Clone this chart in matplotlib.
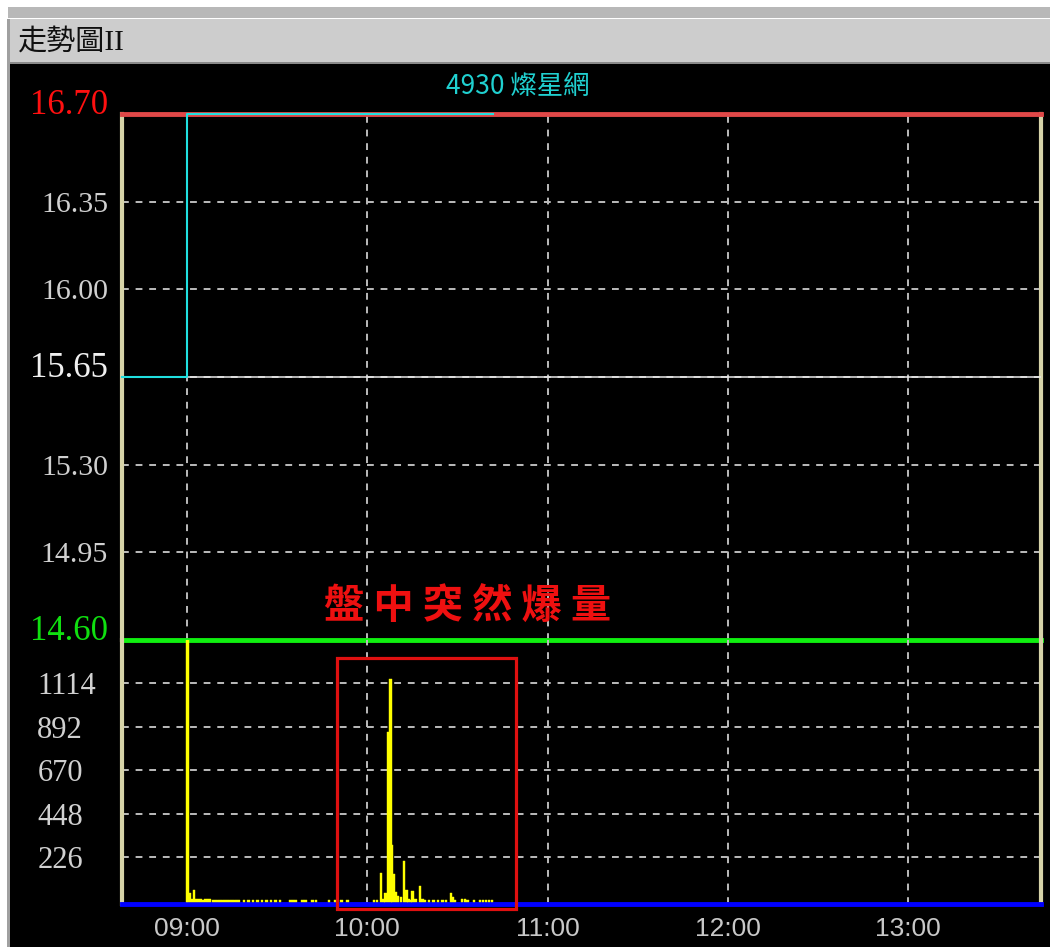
import matplotlib.pyplot as plt
from matplotlib.patches import Rectangle

plt.rcParams['font.family'] = 'Liberation Serif'
CJK = ['Noto Sans CJK TC', 'DejaVu Sans']
CJK_SERIF = ['Liberation Serif', 'Noto Sans CJK TC']

# data (x = minutes after 09:00)
stock_title = '4930 燦星網'
ref_price = 15.65
limit_up = 16.70
limit_down = 14.60
price_ticks = [14.60, 14.95, 15.30, 15.65, 16.00, 16.35, 16.70]
price_labels = ['14.60', '14.95', '15.30', '15.65', '16.00', '16.35', '16.70']
price_times = [-21.6, 0.0, 101.8]
price_vals = [15.65, 16.70, 16.70]

vol_ticks = [226, 448, 670, 892, 1114]
vol_times = [0.2, 1.0, 1.6, 2.3, 3.0, 3.8, 4.6, 5.4, 6.2, 7.0, 7.7,
             8.6, 9.4, 10.2, 11.0, 11.8, 12.6, 13.4, 14.2, 15.0, 15.8, 16.6, 17.4,
             19.0, 20.5, 22.0, 23.5, 25.0, 26.5, 28.0, 29.5, 31.0,
             34.5, 35.3, 36.1, 38.5, 39.5, 41.8, 43.0,
             47.3, 49.5, 51.5, 53.5, 62.2, 63.2,
             64.5, 65.4, 66.1, 67.0, 67.8, 68.3, 69.0, 69.5, 70.2, 71.2,
             72.3, 73.1, 73.8, 74.5, 75.1, 76.1, 77.6, 78.4, 79.2, 80.5,
             82.0, 83.5, 85.0, 86.2, 87.9, 88.5, 89.2, 91.5, 92.5, 93.3,
             95.5, 97.5, 98.5, 99.5, 100.5, 101.5]
vol_vals = [1340, 45, 15, 60, 15, 12, 15, 10, 15, 12, 15,
            10, 8, 10, 8, 10, 8, 10, 8, 10, 8, 10, 8,
            8, 6, 8, 6, 8, 6, 8, 6, 8,
            10, 8, 10, 8, 10, 8, 8,
            8, 6, 8, 6, 10, 8,
            146, 12, 45, 864, 1136, 288, 141, 50, 30, 25,
            207, 60, 15, 10, 55, 12, 80, 15, 10, 8,
            8, 6, 8, 6, 45, 25, 10, 12, 15, 10,
            8, 10, 10, 8, 10, 8]

hour_ticks = [0, 60, 120, 180, 240]
hour_labels = ['09:00', '10:00', '11:00', '12:00', '13:00']

W, H = 1050, 947
fig = plt.figure(figsize=(10.5, 9.47), dpi=100, facecolor='white')


def box(x0, y0, x1, y1, color):
    fig.patches.append(Rectangle((x0 / W, 1 - y1 / H), (x1 - x0) / W, (y1 - y0) / H,
                                 transform=fig.transFigure, facecolor=color,
                                 edgecolor='none', zorder=-1))


# window chrome
box(8, 7, 1050, 18, '#b8b8b8')
box(8, 19, 1050, 62, '#cdcdcd')
box(8, 62, 1050, 64, '#8a8a8a')
box(7, 19, 10, 947, '#a0a0a0')
box(10, 64, 1050, 947, 'black')
fig.text(18 / W, 1 - 42 / H, '走勢圖II', fontsize=21, family=CJK_SERIF, va='center', ha='left', color='#101010')
fig.text(518 / W, 1 - 87 / H, stock_title, fontsize=19, family=CJK, va='center', ha='center', color='#20d0d0')

ax = fig.add_axes([122 / W, 1 - 640 / H, 919 / W, 526 / H])
axv = fig.add_axes([122 / W, 1 - 904 / H, 919 / W, 264 / H], sharex=ax)

beige = '#d6d3a8'
grid_kw = dict(color='#bcbcbc', linestyle=(0, (3.5, 3.5)), linewidth=1.4)
for a in (ax, axv):
    a.set_facecolor('none')
    a.set_axisbelow(True)
    a.grid(True, **grid_kw)
    for s in ('left', 'right'):
        a.spines[s].set_color(beige)
        a.spines[s].set_linewidth(3)

# price panel
ax.set_xlim(-21.6, 284.2)
ax.set_ylim(limit_down, limit_up)
ax.set_yticks(price_ticks, price_labels)
ax.tick_params(axis='y', length=0, pad=10, labelsize=21.5, labelcolor='#d0d0d0')
ax.tick_params(axis='x', length=0, labelbottom=False)
special = {'16.70': '#ff1010', '15.65': '#f0f0f0', '14.60': '#10e010'}
for lbl in ax.get_yticklabels():
    if lbl.get_text() in special:
        lbl.set_color(special[lbl.get_text()])
        lbl.set_fontsize(25)
        lbl.set_va('baseline')
ax.spines['top'].set_color('#e04848')
ax.spines['top'].set_linewidth(3.5)
ax.spines['bottom'].set_color('#10f010')
ax.spines['bottom'].set_linewidth(3.5)
ax.spines['bottom'].set_zorder(4)

ax.axhline(ref_price, color='#e8e8e8', lw=1.1, zorder=3)
ax.plot(price_times, price_vals, drawstyle='steps-post', color='#20e0e0', lw=1.5, zorder=4, clip_on=False)
ax.text(93.3, 14.73, '盤 中 突 然 爆 量', color='#ee1010', fontsize=29, fontweight='bold',
        family=CJK, ha='center', va='center', zorder=6)

# volume panel
axv.set_ylim(-12, 1334)
axv.set_yticks(vol_ticks, [str(v) for v in vol_ticks])
axv.tick_params(axis='y', length=0, pad=61, labelsize=22, labelcolor='#d0d0d0')
for lbl in axv.get_yticklabels():
    lbl.set_ha('left')
axv.set_xticks(hour_ticks, hour_labels)
axv.tick_params(axis='x', length=0, pad=9, labelsize=19, labelcolor='#c8c8c8')
for lbl in axv.get_xticklabels():
    lbl.set_family('Liberation Sans')
axv.spines['top'].set_visible(False)
axv.spines['bottom'].set_color('#0000ff')
axv.spines['bottom'].set_linewidth(3.5)

axv.bar(vol_times, vol_vals, width=0.8, color='#ffff00', edgecolor='#ffff00', linewidth=0.3, zorder=3)
axv.add_patch(Rectangle((49.9, -37), 59.6, 1277, fill=False, edgecolor='#e01010',
                        lw=2.3, clip_on=False, zorder=5))

fig.savefig('out.png', dpi=100, facecolor=fig.get_facecolor())
